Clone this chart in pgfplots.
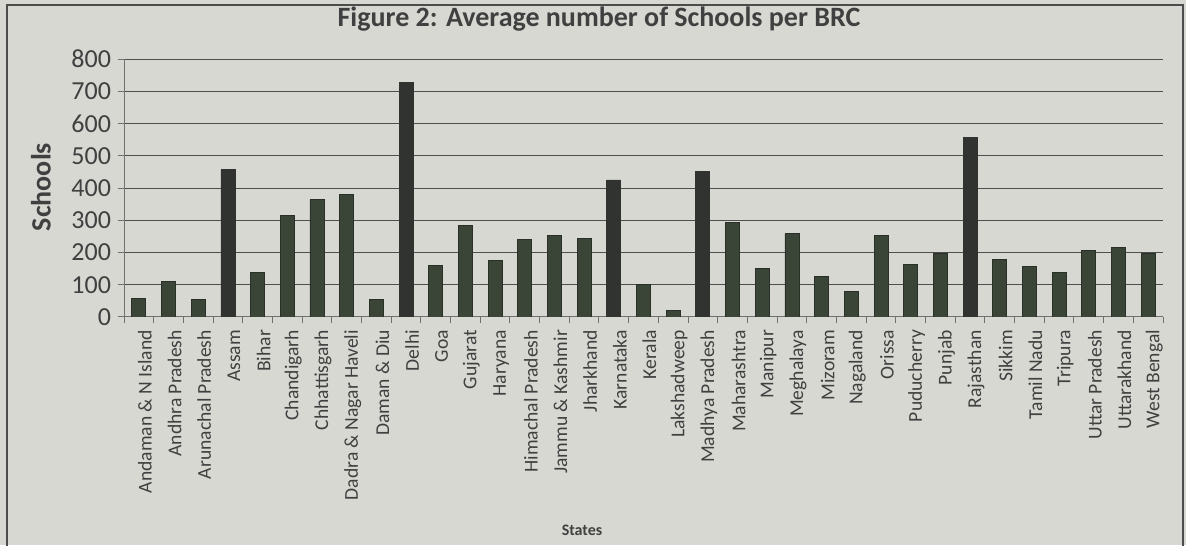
\documentclass[border=0pt]{standalone}
\usepackage{pgfplots}
\pgfplotsset{compat=1.18}
\usepackage{fontspec}
\setmainfont{Carlito}
\definecolor{bg}{HTML}{D8D8D3}
\definecolor{barc}{HTML}{3A4437}
\definecolor{bard}{HTML}{313331}
\definecolor{gridc}{HTML}{4E4E4E}
\begin{document}
\begin{tikzpicture}
\useasboundingbox (0,0) rectangle (593pt,272.5pt);
\fill[bg] (0,0) rectangle (593pt,272.5pt);
\draw[black!70, line width=1pt] (3.5pt,-5pt) -- (3.5pt,270pt) -- (591.5pt,270pt) -- (591.5pt,-5pt);
\begin{axis}[
  at={(62pt,114pt)}, anchor=south west,
  scale only axis, width=519.5pt, height=129pt,
  xmin=-0.5, xmax=34.5, ymin=0, ymax=800,
  ytick={0,100,...,800},
  xtick={0,...,34},
  xticklabels={Andaman \& N Island, Andhra Pradesh, Arunachal Pradesh, Assam, Bihar, Chandigarh, Chhattisgarh, Dadra \& Nagar Haveli, Daman \& Diu, Delhi, Goa, Gujarat, Haryana, Himachal Pradesh, Jammu \& Kashmir, Jharkhand, Karnataka, Kerala, Lakshadweep, Madhya Pradesh, Maharashtra, Manipur, Meghalaya, Mizoram, Nagaland, Orissa, Puducherry, Punjab, Rajasthan, Sikkim, Tamil Nadu, Tripura, Uttar Pradesh, Uttarakhand, West Bengal},
  major x tick style={draw=none},
  minor xtick={-0.5,0.5,...,34.5},
  minor tick length=3pt,
  tick align=outside,
  major tick length=3pt,
  axis x line*=bottom, axis y line*=left,
  axis line style={gridc!80, line width=0.5pt, -},
  tick style={gridc!80, line width=0.5pt},
  ymajorgrids, grid style={gridc, line width=0.5pt},
  /pgf/number format/assume math mode=true,
  yticklabel style={font=\fontsize{13}{15}\selectfont, text=black!75},
  x tick label style={rotate=90, anchor=east, font=\fontsize{9.8}{11}\selectfont, text=black!75, yshift=-3pt},
  ybar, bar width=7pt, bar shift=0pt,
]
\addplot[fill=barc, draw=barc!70!black] coordinates {
 (0,57) (1,109) (2,54) (4,137) (5,316) (6,365) (7,379) (8,54)
 (10,161) (11,285) (12,174) (13,240) (14,252) (15,243) (17,102) (18,19)
 (20,292) (21,150) (22,258) (23,125) (24,80) (25,252) (26,162) (27,196)
 (29,178) (30,158) (31,137) (32,207) (33,216) (34,198)
};
\addplot[fill=bard, draw=bard] coordinates {
 (3,458) (9,728) (16,425) (19,450) (28,558)
};
\end{axis}
\node[font=\fontsize{14}{16}\selectfont\bfseries, text=black!75] at (299.5pt,263pt) {Figure 2: Average number of Schools per BRC};
\node[rotate=90, font=\fontsize{14}{16}\selectfont\bfseries, text=black!75] at (20.5pt,179pt) {Schools};
\node[font=\fontsize{8}{10}\selectfont\bfseries, text=black!75] at (291pt,7.5pt) {States};
\end{tikzpicture}
\end{document}
